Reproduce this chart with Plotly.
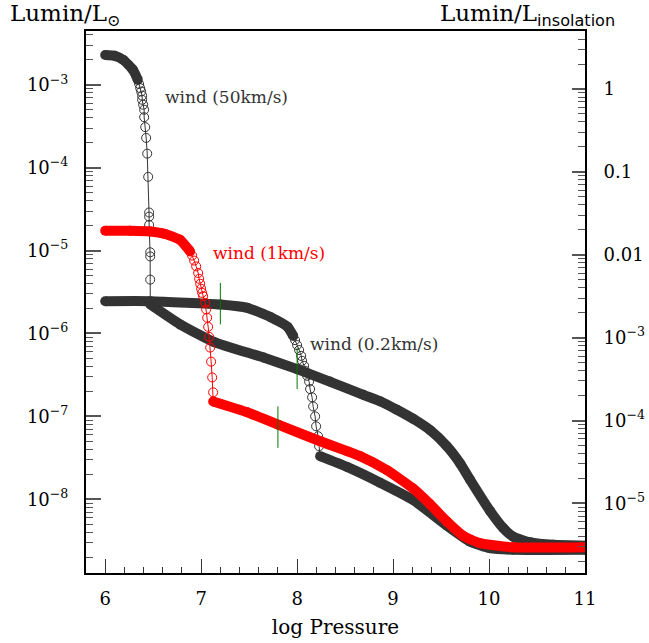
import numpy as np
import plotly.graph_objects as go

# ---------------- data ----------------
# wind 50 km/s (black)
a_hi_x = [6.00, 6.10, 6.19, 6.29, 6.34]
a_hi_logL = [-2.64, -2.65, -2.70, -2.82, -2.94]
a_wind_x = [6.354, 6.365, 6.375, 6.385, 6.385, 6.396, 6.406, 6.406, 6.417, 6.427,
            6.438, 6.448, 6.458, 6.458, 6.458, 6.469, 6.469, 6.469]
a_wind_logL = [-2.99, -3.04, -3.08, -3.13, -3.18, -3.24, -3.30, -3.39, -3.51, -3.64,
               -3.83, -4.11, -4.54, -4.59, -4.69, -5.02, -5.07, -5.35]
a_lo_x = [6.47, 6.78, 7.13, 7.65, 8.00, 8.34, 8.69, 8.87, 9.04, 9.21, 9.39, 9.56,
          9.70, 9.80, 10.01, 10.15, 10.25, 10.43, 10.67, 11.0]
a_lo_logL = [-5.65, -5.89, -6.10, -6.29, -6.43, -6.58, -6.74, -6.82, -6.92, -7.03,
             -7.17, -7.36, -7.57, -7.76, -8.14, -8.35, -8.45, -8.52, -8.55, -8.56]

# wind 1 km/s (red)
b_hi_x = [6.00, 6.26, 6.47, 6.625, 6.78, 6.885]
b_hi_logL = [-4.76, -4.76, -4.77, -4.80, -4.87, -5.01]
b_wind_x = [6.906, 6.927, 6.948, 6.969, 6.979, 6.990, 7.000, 7.010, 7.021, 7.042,
            7.052, 7.0625, 7.073, 7.083, 7.094, 7.104, 7.115, 7.125]
b_wind_logL = [-5.06, -5.12, -5.19, -5.27, -5.34, -5.40, -5.46, -5.51, -5.55, -5.63,
               -5.71, -5.81, -5.92, -6.04, -6.17, -6.34, -6.53, -6.71]
b_lo_x = [7.125, 7.479, 7.802, 8.240, 8.656, 8.9375, 9.208, 9.385, 9.5625, 9.729,
          9.906, 10.25, 11.0]
b_lo_logL = [-6.82, -6.95, -7.10, -7.30, -7.48, -7.65, -7.87, -8.06, -8.27, -8.44,
             -8.53, -8.58, -8.58]

# wind 0.2 km/s (black)
c_hi_x = [6.00, 6.47, 7.20, 7.48, 7.72, 7.90, 7.96]
c_hi_logL = [-5.61, -5.61, -5.65, -5.69, -5.80, -5.92, -6.03]
c_wind_x = [7.979, 8.000, 8.021, 8.042, 8.052, 8.073, 8.083, 8.104, 8.125, 8.135,
            8.156, 8.167, 8.1875, 8.198, 8.219, 8.229]
c_wind_logL = [-6.08, -6.14, -6.20, -6.27, -6.33, -6.39, -6.45, -6.51, -6.58, -6.67,
               -6.77, -6.88, -7.00, -7.12, -7.24, -7.36]
c_lo_x = [8.24, 8.52, 8.865, 9.21, 9.5625, 9.80, 10.01, 10.25, 11.0]
c_lo_logL = [-7.48, -7.61, -7.80, -8.01, -8.32, -8.51, -8.59, -8.61, -8.61]

# green markers (position, centre log L)
green_x = [7.2, 7.8, 8.0]
green_logL = [-5.64, -7.13, -6.42]
green_half = 0.25

# axis ticks
x_ticks = [6, 7, 8, 9, 10, 11]
left_tickvals = [1e-8, 1e-7, 1e-6, 1e-5, 1e-4, 1e-3]
left_ticktext = ["10<sup>−8</sup>", "10<sup>−7</sup>", "10<sup>−6</sup>",
                 "10<sup>−5</sup>", "10<sup>−4</sup>", "10<sup>−3</sup>"]
right_tickvals = [1e-5, 1e-4, 1e-3, 0.01, 0.1, 1]
right_ticktext = ["10<sup>−5</sup>", "10<sup>−4</sup>", "10<sup>−3</sup>",
                  "0.01", "0.1", "1"]
insol_offset_dex = 3.05   # log(L_sun units) -> log(L_insolation units)

# ---------------- figure ----------------
BLACK = "#333333"
RED = "#ff0000"
FONT = "DejaVu Serif"

fig = go.Figure()


def L(v):
    return list(10.0 ** np.asarray(v))


def add_series(hx, hl, wx, wl, lx, ll, col):
    # dense branches drawn as thick bands
    for bx, bl in ((hx, hl), (lx, ll)):
        fig.add_trace(go.Scatter(
            x=bx, y=L(bl), mode="lines+markers",
            line=dict(color=col, width=10, shape="spline", smoothing=0.5),
            marker=dict(color=col, size=10, symbol="circle"),
            hoverinfo="skip", showlegend=False))
    # thin connecting line through the wind points
    tx = [hx[-1]] + wx + [lx[0]]
    tl = [hl[-1]] + wl + [ll[0]]
    fig.add_trace(go.Scatter(
        x=tx, y=L(tl), mode="lines",
        line=dict(color=col, width=1),
        hoverinfo="skip", showlegend=False))
    fig.add_trace(go.Scatter(
        x=wx, y=L(wl), mode="markers",
        marker=dict(symbol="circle-open", size=9, color=col,
                    line=dict(color=col, width=1)),
        hoverinfo="skip", showlegend=False))


add_series(a_hi_x, a_hi_logL, a_wind_x, a_wind_logL, a_lo_x, a_lo_logL, BLACK)
add_series(c_hi_x, c_hi_logL, c_wind_x, c_wind_logL, c_lo_x, c_lo_logL, BLACK)
add_series(b_hi_x, b_hi_logL, b_wind_x, b_wind_logL, b_lo_x, b_lo_logL, RED)

gx, gy = [], []
for xv, lv in zip(green_x, green_logL):
    gx += [xv, xv, None]
    gy += [10 ** (lv - green_half), 10 ** (lv + green_half), None]
fig.add_trace(go.Scatter(x=gx, y=gy, mode="lines",
                         line=dict(color="#007a00", width=1),
                         hoverinfo="skip", showlegend=False))

# invisible trace to activate the right axis
fig.add_trace(go.Scatter(x=[6], y=[1], yaxis="y2", mode="markers",
                         marker=dict(opacity=0), hoverinfo="skip",
                         showlegend=False))

ylo, yhi = -8.89, -2.35
left_minor = [m * 10.0 ** k for k in range(-9, -2) for m in range(2, 10)]
right_minor = [m * 10.0 ** k for k in range(-6, 1) for m in range(2, 10)]

tickfont = dict(family=FONT, size=18, color="black")

fig.update_layout(
    width=649, height=643,
    margin=dict(l=86, r=64, t=31, b=70, autoexpand=False),
    paper_bgcolor="white", plot_bgcolor="white",
    showlegend=False,
    xaxis=dict(
        range=[5.8, 11], showgrid=False, zeroline=False, automargin=False,
        showline=True, linecolor="black", linewidth=2, mirror=True,
        ticks="inside", ticklen=14, tickwidth=1, tickcolor="#333",
        tickvals=x_ticks, tickfont=tickfont, ticklabelstandoff=8,
        minor=dict(ticks="inside", ticklen=6, tickwidth=1, tickcolor="#333",
                   dtick=0.2, tick0=6, showgrid=False),
        title=dict(text="log Pressure", font=dict(family=FONT, size=20,
                                                   color="black"),
                   standoff=12),
    ),
    yaxis=dict(
        type="log", range=[ylo, yhi], showgrid=False, zeroline=False,
        automargin=False,
        showline=True, linecolor="black", linewidth=2,
        ticks="inside", ticklen=15, tickwidth=1.5, tickcolor="#555",
        tickvals=left_tickvals, ticktext=left_ticktext, tickfont=tickfont,
        ticklabelstandoff=12,
        minor=dict(ticks="inside", ticklen=7, tickwidth=1, tickcolor="#555",
                   tickvals=left_minor, showgrid=False),
    ),
    yaxis2=dict(
        type="log", overlaying="y", side="right",
        range=[ylo + insol_offset_dex, yhi + insol_offset_dex],
        showgrid=False, zeroline=False, automargin=False,
        showline=True, linecolor="black", linewidth=2,
        ticks="inside", ticklen=13, tickwidth=1.5, tickcolor="#555",
        tickvals=right_tickvals, ticktext=right_ticktext, tickfont=tickfont,
        ticklabelstandoff=13,
        minor=dict(ticks="inside", ticklen=7, tickwidth=1, tickcolor="#555",
                   tickvals=right_minor, showgrid=False),
    ),
)

annots = [
    dict(text="wind (50km/s)", x=6.60, y=-3.145, color=BLACK),
    dict(text="wind (1km/s)", x=7.10, y=-5.03, color=RED),
    dict(text="wind (0.2km/s)", x=8.11, y=-6.13, color=BLACK),
]
for a in annots:
    fig.add_annotation(text=a["text"], x=a["x"], y=a["y"], xref="x", yref="y",
                       xanchor="left", yanchor="middle", showarrow=False,
                       font=dict(family=FONT, size=17, color=a["color"]))

fig.add_annotation(text="Lumin/L<sub>⊙</sub>", xref="paper", yref="paper",
                   x=-0.156, y=1.03, xanchor="left", yanchor="middle",
                   showarrow=False,
                   font=dict(family=FONT, size=23, color="black"))
fig.add_annotation(
    text="Lumin/L<sub><span style='font-family:DejaVu Sans'>insolation</span></sub>",
    xref="paper", yref="paper", x=0.705, y=1.03, xanchor="left",
    yanchor="middle", showarrow=False,
    font=dict(family=FONT, size=23, color="black"))

fig.write_html(
    "out.html",
    config={"displayModeBar": False},
    post_script="document.body.style.margin='0px';"
                "document.body.style.overflow='hidden';",
)
